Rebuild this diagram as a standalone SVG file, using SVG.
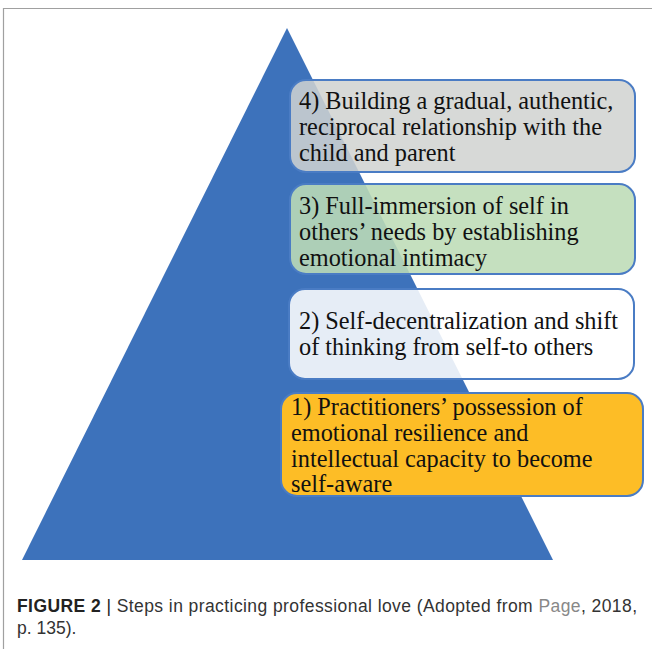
<svg xmlns="http://www.w3.org/2000/svg" width="652" height="649" viewBox="0 0 652 649">
<style>
.box{stroke:#4a7cc4;stroke-width:2}
.t{font-family:"Liberation Serif","Times New Roman",serif;font-size:24.3px;fill:#111}
.cap{font-family:"Liberation Sans",Arial,sans-serif;font-size:17.5px;fill:#333}
</style>
<rect x="0" y="0" width="652" height="649" fill="#ffffff"/>
<path d="M3.5 649 V8.5 H652" fill="none" stroke="#a0a0a0" stroke-width="1.2"/>
<polygon id="pyramid" points="287,28 553,560 22,560" fill="#3d72bb"/>
<g id="step4">
<rect class="box" x="290" y="80" width="345" height="92" rx="16" fill="#d1d3d1" fill-opacity="0.86"/>
<text class="t" x="299" y="108.5">4) Building a gradual, authentic,</text>
<text class="t" x="299" y="134.5">reciprocal relationship with the</text>
<text class="t" x="299" y="160.5">child and parent</text>
</g>
<g id="step3">
<rect class="box" x="290" y="184" width="345" height="90" rx="16" fill="#bddcb6" fill-opacity="0.88"/>
<text class="t" x="299" y="213.5">3) Full-immersion of self in</text>
<text class="t" x="299" y="239.5">others’ needs by establishing</text>
<text class="t" x="299" y="265.5">emotional intimacy</text>
</g>
<g id="step2">
<rect class="box" x="289" y="289" width="345" height="90" rx="16" fill="#ffffff" fill-opacity="0.87"/>
<text class="t" x="299" y="329">2) Self-decentralization and shift</text>
<text class="t" x="299" y="355">of thinking from self-to others</text>
</g>
<g id="step1">
<rect class="box" x="281" y="393" width="362" height="103" rx="16" fill="#fdbd26"/>
<text class="t" x="291" y="414.5">1) Practitioners’ possession of</text>
<text class="t" x="291" y="440.5">emotional resilience and</text>
<text class="t" x="291" y="466.5">intellectual capacity to become</text>
<text class="t" x="291" y="492">self-aware</text>
</g>
<g id="caption">
<text class="cap" x="17" y="612" textLength="620" lengthAdjust="spacing"><tspan font-weight="bold" fill="#222">FIGURE 2</tspan><tspan fill="#222"> | </tspan>Steps in practicing professional love (Adopted from <tspan fill="#888">Page</tspan>, 2018,</text>
<text class="cap" x="17" y="634">p. 135).</text>
</g>
</svg>
